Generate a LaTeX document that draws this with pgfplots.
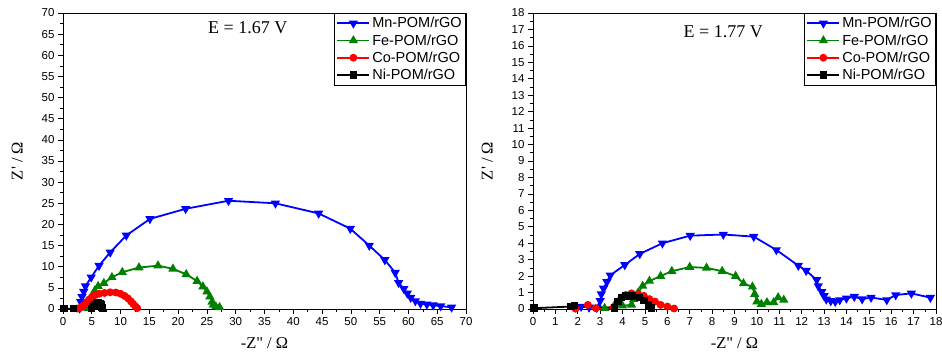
\documentclass[border=0pt]{standalone}
\usepackage{pgfplots}
\pgfplotsset{compat=1.18}
\usepackage{fontspec}
\setmainfont{Liberation Serif}
\newfontfamily\tnrq{Liberation Serif}[Ligatures=TeXOff]
\newfontfamily\arial{Liberation Sans}
\definecolor{mnblue}{RGB}{0,0,255}
\definecolor{fegreen}{RGB}{0,128,0}
\definecolor{cored}{RGB}{255,0,0}
\pgfplotsset{
  eis/.style={
    scale only axis, width=403pt, height=296pt, anchor=south west,
    xmin=0, ymin=0,
    tick align=outside, xtick pos=bottom, ytick pos=left,
    minor tick num=1,
    major tick length=5pt, minor tick length=3pt,
    tick style={black, line width=0.6pt},
    axis line style={line width=0.8pt},
    /pgf/number format/assume math mode=true,
    ticklabel style={font=\arial\fontsize{11.5}{13}\selectfont},
    xlabel={{\tnrq -Z" / Ω}}, ylabel={{\tnrq Z' / Ω}},
    label style={font=\fontsize{16.5}{19}\selectfont},
    xlabel style={yshift=-5pt},
    ylabel style={yshift=12pt},
    legend style={at={(rel axis cs:1,1)}, anchor=north east, draw=black, line width=0.6pt,
      font=\arial\fontsize{14.5}{17}\selectfont, row sep=1.2pt, inner sep=2pt,
      cells={anchor=west}},
    legend cell align=left,
    legend image code/.code={\draw[mark repeat=2,mark phase=2,#1] plot coordinates {(0pt,0pt) (16pt,0pt) (32pt,0pt)};},
    every axis plot/.append style={line width=1.8pt, mark size=3.6pt},
  },
  mn/.style={color=mnblue, mark=triangle*, mark options={rotate=180, solid}},
  fe/.style={color=fegreen, mark=triangle*},
  co/.style={color=cored, mark=*, mark size=3pt},
  ni/.style={color=black, mark=square*, mark size=2.8pt},
}
\begin{document}
\begin{tikzpicture}[x=1pt,y=1pt]
\begin{axis}[eis, at={(63pt,52pt)}, xmax=70, ymax=70, xtick distance=5, ytick distance=5]
\addplot[mn] coordinates {(2.9,0.15)(3.07,1.7)(3.3,2.9)(3.6,4.1)(3.9,5.4)(4.9,7.5)(6.26,10.25)(8.2,13.4)(11.0,17.4)(15.1,21.3)(21.3,23.7)(28.75,25.6)(36.9,25.0)(44.4,22.6)(49.9,19.0)(53.2,15.0)(55.9,11.6)(57.7,8.6)(58.3,6.2)(59.2,4.8)(59.8,3.7)(60.4,2.7)(61.2,1.9)(62.1,1.3)(63.2,1.1)(64.3,0.9)(65.6,0.7)(67.5,0.4)};
\addlegendentry{Mn-POM/rGO}
\addplot[fe] coordinates {(4.35,0.15)(4.6,1.7)(5.0,2.9)(5.5,4.3)(6.1,5.4)(7.1,6.1)(8.5,7.5)(10.3,8.7)(13.2,9.8)(16.5,10.25)(19.1,9.5)(21.4,8.2)(23.3,6.6)(24.3,5.3)(25.0,4.1)(25.5,2.9)(25.9,1.7)(26.1,0.95)(26.55,0.55)(27.2,0.4)};
\addlegendentry{Fe-POM/rGO}
\addplot[co] coordinates {(2.5,0.1)(3.0,0.3)(3.5,0.8)(4.0,1.5)(4.5,2.2)(5.0,2.8)(5.6,3.3)(6.3,3.6)(7.2,3.8)(8.2,3.95)(9.2,3.9)(10.0,3.6)(10.7,3.1)(11.3,2.5)(11.8,1.8)(12.2,1.2)(12.6,0.6)(12.9,0.2)};
\addlegendentry{Co-POM/rGO}
\addplot[ni] coordinates {(0.2,0.05)(1.8,0.1)(4.9,0.15)(5.2,0.6)(5.5,1.0)(5.8,1.4)(6.1,1.55)(6.4,1.3)(6.6,0.9)(6.8,0.4)(6.9,0.1)};
\addlegendentry{Ni-POM/rGO}
\node[font=\fontsize{18}{20}\selectfont] at (axis cs:32.1,66.5) {E = 1.67 V};
\end{axis}
\begin{axis}[eis, at={(533pt,52pt)}, xmax=18, ymax=18, xtick distance=1, ytick distance=1]
\addplot[mn] coordinates {(2.15,0.15)(2.5,0.1)(2.85,0.08)(3.0,0.5)(3.05,0.9)(3.15,1.25)(3.3,1.65)(3.45,2.05)(4.1,2.68)(4.77,3.35)(5.78,4.0)(7.02,4.46)(8.5,4.53)(9.86,4.4)(10.87,3.59)(11.85,2.64)(12.2,2.33)(12.67,1.77)(12.74,1.4)(12.9,1.05)(13.0,0.8)(13.1,0.59)(13.3,0.49)(13.5,0.45)(13.7,0.55)(14.0,0.65)(14.35,0.75)(14.7,0.6)(15.1,0.7)(15.8,0.55)(16.2,0.85)(16.9,0.95)(17.75,0.69)};
\addlegendentry{Mn-POM/rGO}
\addplot[fe] coordinates {(3.2,0.05)(3.6,0.15)(4.0,0.2)(4.4,0.25)(4.5,0.6)(4.7,1.0)(4.9,1.4)(5.2,1.7)(5.7,2.0)(6.2,2.3)(7.0,2.55)(7.75,2.5)(8.45,2.3)(9.05,2.0)(9.4,1.55)(9.8,1.35)(9.9,0.9)(10.0,0.45)(10.2,0.3)(10.45,0.4)(10.75,0.4)(10.95,0.7)(11.2,0.55)};
\addlegendentry{Fe-POM/rGO}
\addplot[co] coordinates {(1.9,0.02)(2.45,0.25)(2.8,0.05)(3.6,0.1)(3.8,0.4)(3.95,0.7)(4.15,0.85)(4.4,0.95)(4.7,0.9)(4.95,0.8)(5.2,0.6)(5.45,0.45)(5.7,0.25)(6.0,0.15)(6.3,0.03)};
\addlegendentry{Co-POM/rGO}
\addplot[ni] coordinates {(0.05,0.05)(1.7,0.15)(1.85,0.2)(3.65,0.05)(3.8,0.45)(3.95,0.7)(4.15,0.8)(4.45,0.8)(4.75,0.7)(4.95,0.5)(5.15,0.25)(5.3,0.05)};
\addlegendentry{Ni-POM/rGO}
\node[font=\fontsize{18}{20}\selectfont] at (axis cs:8.5,16.85) {E = 1.77 V};
\end{axis}
\pgfresetboundingbox
\useasboundingbox (0pt,0pt) rectangle (942pt,361pt);
\end{tikzpicture}
\end{document}
